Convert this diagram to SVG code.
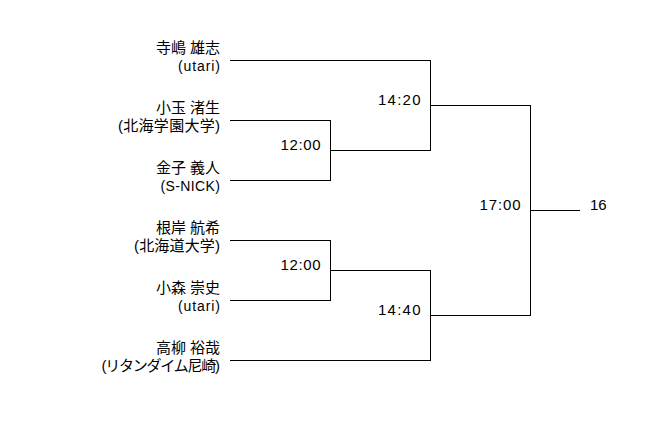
<svg xmlns="http://www.w3.org/2000/svg" width="658" height="440" viewBox="0 0 658 440">
<style>
text{font-family:"Liberation Sans","Noto Sans CJK JP",sans-serif;fill:#000}
.nm{font-size:15px;text-anchor:end}
.tm{font-size:14px;text-anchor:end}
.tj{font-size:15px;text-anchor:end}
.tt{font-size:15px;text-anchor:end}
.cn{fill:none;stroke:#000;stroke-width:1;shape-rendering:crispEdges}
</style>
<rect width="658" height="440" fill="#fff"/>
<g id="connectors" class="cn">
<path d="M230 60.5H430.5V150.5"/>
<path d="M230 120.5H330.5V180.5H230"/>
<path d="M330.5 150.5H430.5"/>
<path d="M430.5 105.5H530.5V315.5H430.5"/>
<path d="M530.5 210.5H580"/>
<path d="M230 240.5H330.5V300.5H230"/>
<path d="M330.5 270.5H430.5V360.5H230"/>
</g>
<g id="p1"><text class="nm" x="220" y="53" textLength="64" lengthAdjust="spacing">寺嶋 雄志</text><text class="tm" x="220" y="71" textLength="42" lengthAdjust="spacing">(utari)</text></g>
<g id="p2"><text class="nm" x="220" y="113" textLength="64" lengthAdjust="spacing">小玉 渚生</text><text class="tj" x="220" y="131" textLength="102" lengthAdjust="spacing">(北海学園大学)</text></g>
<g id="p3"><text class="nm" x="220" y="173" textLength="64" lengthAdjust="spacing">金子 義人</text><text class="tm" x="220" y="191" textLength="59.5" lengthAdjust="spacing">(S-NICK)</text></g>
<g id="p4"><text class="nm" x="220" y="233" textLength="64" lengthAdjust="spacing">根岸 航希</text><text class="tj" x="220" y="251" textLength="86" lengthAdjust="spacing">(北海道大学)</text></g>
<g id="p5"><text class="nm" x="220" y="293" textLength="64" lengthAdjust="spacing">小森 崇史</text><text class="tm" x="220" y="311" textLength="42" lengthAdjust="spacing">(utari)</text></g>
<g id="p6"><text class="nm" x="220" y="353" textLength="64" lengthAdjust="spacing">高柳 裕哉</text><text class="tj" x="220" y="371" textLength="118.5" lengthAdjust="spacing">(リタンダイム尼崎)</text></g>
<g id="m1"><text class="tt" x="320.5" y="150" textLength="40" lengthAdjust="spacing">12:00</text></g>
<g id="m2"><text class="tt" x="420.5" y="105" textLength="42.5" lengthAdjust="spacing">14:20</text></g>
<g id="m3"><text class="tt" x="320.5" y="270" textLength="40" lengthAdjust="spacing">12:00</text></g>
<g id="m4"><text class="tt" x="420.5" y="315" textLength="42.5" lengthAdjust="spacing">14:40</text></g>
<g id="m5"><text class="tt" x="520.5" y="210" textLength="41" lengthAdjust="spacing">17:00</text></g>
<g id="result"><text x="590" y="210" style="font-size:15px">16</text></g>
</svg>
